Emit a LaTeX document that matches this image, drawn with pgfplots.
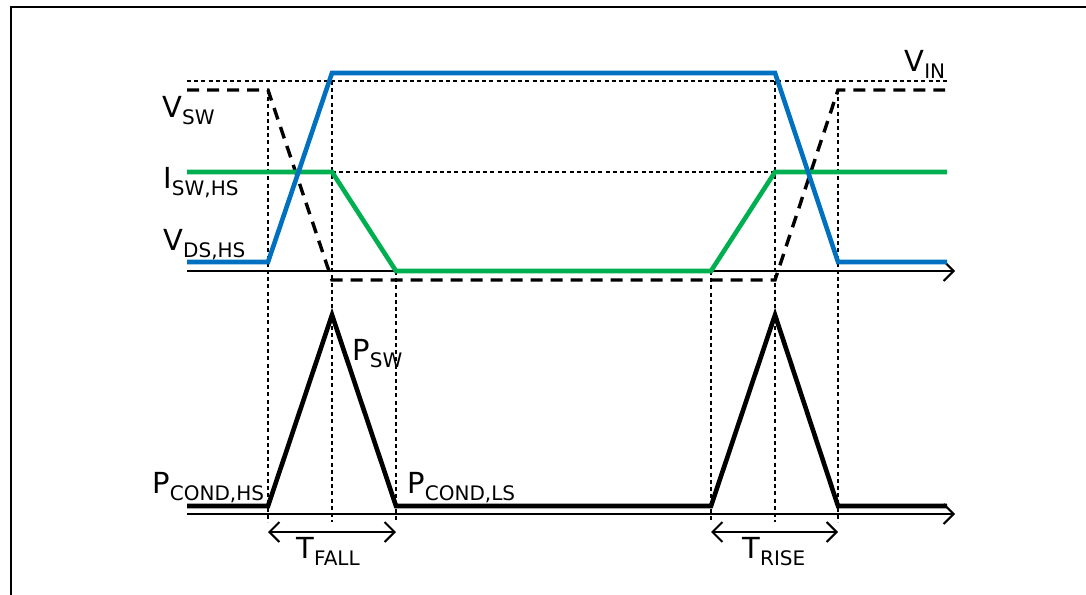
\documentclass[border=0pt]{standalone}
\usepackage{fontspec}
\setmainfont{DejaVu Sans}
\usepackage{pgfplots}
\pgfplotsset{compat=1.18}
\usetikzlibrary{arrows.meta}
\definecolor{wblue}{RGB}{0,112,192}
\definecolor{wgreen}{RGB}{0,176,80}
\newcommand{\lbl}[2]{#1\raisebox{-3.5pt}{\fontsize{10}{10}\selectfont #2}}
\tikzset{
  guide/.style = {black, line width=1pt, dash pattern=on 2pt off 1.6pt},
  taxis/.style = {black, line width=1pt, -{Straight Barb[length=5pt,width=10pt]}},
  span/.style  = {black, line width=1pt, {Straight Barb[length=5pt,width=10pt]}-{Straight Barb[length=5pt,width=10pt]}},
  lab/.style   = {anchor=base west, inner sep=0pt, font=\fontsize{14.5}{14.5}\selectfont}
}
\begin{document}
\begin{tikzpicture}
\begin{axis}[
  width=543pt, height=297pt, scale only axis,
  xmin=0, xmax=1086, ymin=0, ymax=594,
  y dir=reverse, hide axis, clip=true
]
\path (axis cs:0,0) rectangle (axis cs:1086,594);
% frame
\addplot[black, line width=1.3pt] coordinates {(11,610) (11,7) (1100,7)};
% dotted guides
\addplot[guide] coordinates {(187,81) (947,81)};
\addplot[guide] coordinates {(332,172) (775,172)};
\addplot[guide] coordinates {(268,90) (268,522)};
\addplot[guide] coordinates {(332,81) (332,522)};
\addplot[guide] coordinates {(396,271) (396,522)};
\addplot[guide] coordinates {(711,271) (711,522)};
\addplot[guide] coordinates {(775,81) (775,522)};
\addplot[guide] coordinates {(838,90) (838,522)};
% time axes
\addplot[taxis] coordinates {(187,271) (955,271)};
\addplot[taxis] coordinates {(187,514) (955,514)};
% V_SW
\addplot[black, line width=1.7pt, dash pattern=on 6pt off 4pt] coordinates
  {(187,90) (268,90) (332,280) (775,280) (838,90) (945,90)};
% I_SW,HS
\addplot[wgreen, line width=2.3pt] coordinates
  {(187,172) (332,172) (396,271) (711,271) (775,172) (947,172)};
% V_DS,HS
\addplot[wblue, line width=2.3pt] coordinates
  {(187,262) (268,262) (332,73) (775,73) (838,262) (947,262)};
% P
\addplot[black, line width=2.3pt] coordinates
  {(187,506) (268,506) (332,315) (396,506) (711,506) (775,315) (838,506) (947,506)};
% transition spans
\addplot[span] coordinates {(268,532) (396,532)};
\addplot[span] coordinates {(711,532) (838,532)};
% labels
\node[lab] at (axis cs:904,71) {\lbl{V}{IN}};
\node[lab] at (axis cs:162,117) {\lbl{V}{SW}};
\node[lab] at (axis cs:163,188) {\lbl{I}{SW,HS}};
\node[lab] at (axis cs:163,250) {\lbl{V}{DS,HS}};
\node[lab] at (axis cs:352,360) {\lbl{P}{SW}};
\node[lab] at (axis cs:152,493) {\lbl{P}{COND,HS}};
\node[lab] at (axis cs:407,493) {\lbl{P}{COND,LS}};
\node[lab] at (axis cs:296,558) {\lbl{T}{FALL}};
\node[lab] at (axis cs:742,558) {\lbl{T}{RISE}};
\end{axis}
\end{tikzpicture}
\end{document}
